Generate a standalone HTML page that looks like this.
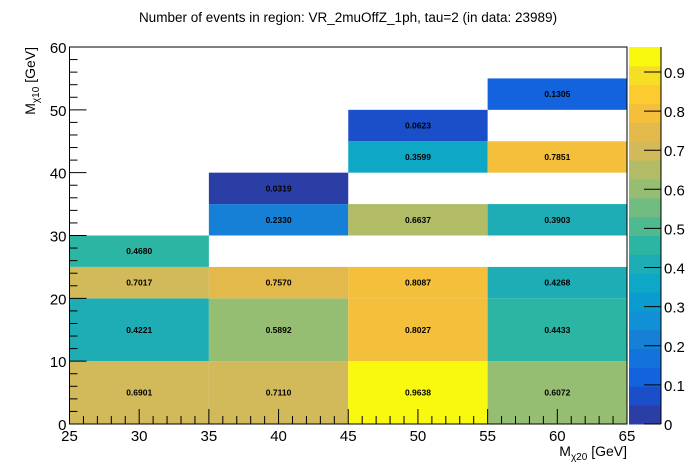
<!DOCTYPE html>
<html><head><meta charset="utf-8"><style>
html,body{margin:0;padding:0;background:#fff}
svg{display:block;font-family:"Liberation Sans",Arial,sans-serif}
</style></head><body>
<svg id="c" width="696" height="472">
<text x="348" y="22" text-anchor="middle" font-size="13.5">Number of events in region: VR_2muOffZ_1ph, tau=2 (in data: 23989)</text>
<g id="cells"></g>
<g id="axes"></g>
<g id="pal"></g>
<text x="627" y="456" text-anchor="end" font-size="14">M<tspan font-size="10" dy="4">χ20</tspan><tspan dy="-4"> [GeV]</tspan></text>
<text transform="translate(35,47) rotate(-90)" text-anchor="end" font-size="14">M<tspan font-size="10" dy="4">χ10</tspan><tspan dy="-4"> [GeV]</tspan></text>
</svg>
<script>
const xLo=[25,25,25,25,35,35,35,35,35,45,45,45,45,45,45,55,55,55,55,55,55];
const yLo=[0,10,20,25,0,10,20,30,35,0,10,20,30,40,45,0,10,20,30,40,50];
const yHi=[10,20,25,30,10,20,25,35,40,10,20,25,35,45,50,10,20,25,35,45,55];
const values=[0.6901,0.4221,0.7017,0.4680,0.7110,0.5892,0.7570,0.2330,0.0319,0.9638,0.8027,0.8087,0.6637,0.3599,0.0623,0.6072,0.4433,0.4268,0.3903,0.7851,0.1305];
const xTicks=[25,30,35,40,45,50,55,60,65];
const yTicks=[0,10,20,30,40,50,60];
const zTicks=[0,0.1,0.2,0.3,0.4,0.5,0.6,0.7,0.8,0.9];
const palette=["#2a3ea6","#1b4ec9","#1263dd","#1472dc","#1680d6","#1190d6","#0a9bcf","#0ea7c6","#1fadb5","#2db5a3","#4fb990","#72bc82","#96be72","#b2bb66","#d2b95a","#e3b94c","#f4bf3a","#fccb2f","#f6de25","#f9f90f"];
const NS="http://www.w3.org/2000/svg";
const X0=69.5,X1=627,Y0=424,Y1=47;
const sx=v=>X0+(v-25)/(65-25)*(X1-X0);
const sy=v=>Y0-(v-0)/(60-0)*(Y0-Y1);
const zmax=Math.max(...values);
const PX0=629,PX1=661;
const sz=v=>Y0-v/zmax*(Y0-Y1);
function mk(tag,attrs,parent){const e=document.createElementNS(NS,tag);for(const k in attrs)e.setAttribute(k,attrs[k]);parent.appendChild(e);return e;}
const color=v=>palette[Math.min(19,Math.floor(v/zmax*20))];
const cells=document.getElementById('cells');
values.forEach((v,i)=>{
  const x=sx(xLo[i]),w=sx(xLo[i]+10)-x,y=sy(yHi[i]),h=sy(yLo[i])-y;
  const r=mk('rect',{x:x,y:y,width:w,height:h,fill:color(v)},cells);
  
  
  const t=mk('text',{x:x+w/2,y:y+h/2+3,'text-anchor':'middle','font-size':'8.5','font-weight':'bold',fill:'#000'},cells);
  t.textContent=v.toFixed(4);
  
  
});
const ax=document.getElementById('axes');
const fr=mk('rect',{x:X0,y:Y1,width:X1-X0,height:Y0-Y1,fill:'none',stroke:'#000','stroke-width':1},ax);


for(let v=25;v<=65;v++){const x=sx(v);const maj=v%5===0;mk('line',{x1:x,x2:x,y1:Y0,y2:Y0-(maj?15:8),stroke:'#000'},ax);}
xTicks.forEach(v=>{const t=mk('text',{x:sx(v),y:Y0+17,'text-anchor':'middle','font-size':'15'},ax);t.textContent=v;});
for(let v=0;v<=60;v+=2){const y=sy(v);const maj=v%10===0;mk('line',{x1:X0,x2:X0+(maj?17:8),y1:y,y2:y,stroke:'#000'},ax);}
yTicks.forEach(v=>{const t=mk('text',{x:X0-3,y:sy(v)+6,'text-anchor':'end','font-size':'15'},ax);t.textContent=v;});
const pal=document.getElementById('pal');
palette.forEach((c,i)=>{const y=sz((i+1)*zmax/20),y2=sz(i*zmax/20);const r=mk('rect',{x:PX0,y:y,width:PX1-PX0,height:y2-y+0.5,fill:c},pal);});
mk('line',{x1:PX1,x2:PX1,y1:Y1,y2:Y0,stroke:'#000'},pal);
zTicks.forEach(v=>{const y=sz(v);mk('line',{x1:PX1-17,x2:PX1,y1:y,y2:y,stroke:'#000'},pal);const t=mk('text',{x:PX1+3,y:y+6,'font-size':'15'},pal);t.textContent=v===0?'0':v.toFixed(1);});
</script>
</body></html>
